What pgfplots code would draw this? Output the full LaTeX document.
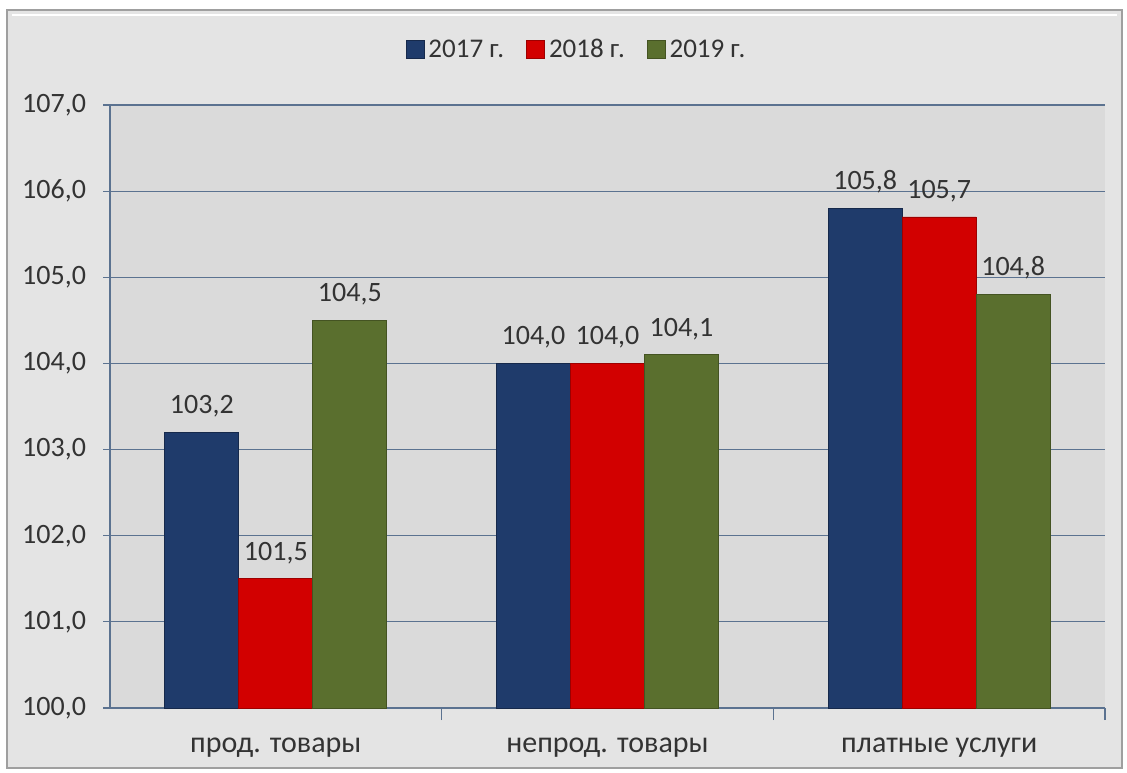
\documentclass[border=0pt]{standalone}
\usepackage{pgfplots}
\pgfplotsset{compat=1.18}
\usepackage{fontspec}
\setmainfont{Carlito}

\definecolor{c17}{HTML}{1F3B6B}
\definecolor{c18}{HTML}{D20000}
\definecolor{c19}{HTML}{5A6F2E}
\definecolor{gridc}{HTML}{5B7290}
\definecolor{outerbg}{HTML}{E4E4E4}
\definecolor{plotbg}{HTML}{DADADA}
\definecolor{txt}{HTML}{333333}

\begin{document}
\begin{tikzpicture}[x=1pt,y=1pt]
  % white page and chart frame (1px = 0.5pt)
  \fill[white] (0,0) rectangle (563.5,386);
  \fill[outerbg] (3.5,2) rectangle (561,381);
  \draw[gray!75, line width=1.2pt] (3.5,2) rectangle (561,381);
  \draw[white, line width=1pt] (6,378.5) -- (558.5,378.5);

  \begin{axis}[
      at={(55pt,32pt)}, anchor=south west,
      scale only axis, width=497.5pt, height=301.5pt,
      ybar=0pt, bar width=37pt,
      xmin=-0.5, xmax=2.5,
      ymin=100, ymax=107, ytick={100,...,107},
      xtick={0,1,2}, major x tick style={draw=none},
      xticklabels={прод. товары, непрод. товары, платные услуги},
      minor xtick={0.5,1.5,2.5},
      minor x tick style={gridc, line width=0.6pt},
      minor tick length=6pt,
      major tick length=3.5pt,
      tick align=outside,
      axis x line*=bottom, axis y line*=left,
      axis line style={gridc, line width=0.7pt, -},
      ytick style={gridc, line width=0.6pt},
      ymajorgrids, major grid style={gridc, line width=0.6pt},
      axis background/.style={fill=plotbg},
      yticklabel style={font=\fontsize{14}{16}\selectfont, text=txt, xshift=-5pt},
      xticklabel style={font=\fontsize{15}{17}\selectfont, text=txt, yshift=-8pt},
      /pgf/number format/.cd, fixed, fixed zerofill, precision=1, use comma, assume math mode=true,
      /pgfplots/.cd,
      nodes near coords,
      nodes near coords style={font=\fontsize{14}{16}\selectfont, text=txt, anchor=south, yshift=4pt,
        /pgf/number format/.cd, fixed, fixed zerofill, precision=1, use comma, assume math mode=true},
      legend style={at={(0.5,1)}, anchor=south, xshift=-15pt, yshift=18pt,
        draw=none, fill=none, legend columns=3,
        font=\fontsize{13.5}{15}\selectfont, text=txt,
        /tikz/every even column/.append style={column sep=9pt}},
      legend image code/.code={\fill[#1] (0pt,-4.5pt) rectangle (9pt,4.5pt);},
      clip=false,
    ]
    \addplot[fill=c17, draw=c17!70!black] coordinates {(0,103.2) (1,104.0) (2,105.8)};
    \addplot[fill=c18, draw=c18!75!black] coordinates {(0,101.5) (1,104.0) (2,105.7)};
    \addplot[fill=c19, draw=c19!75!black] coordinates {(0,104.5) (1,104.1) (2,104.8)};
    \legend{2017 г., 2018 г., 2019 г.}
  \end{axis}
\end{tikzpicture}
\end{document}
